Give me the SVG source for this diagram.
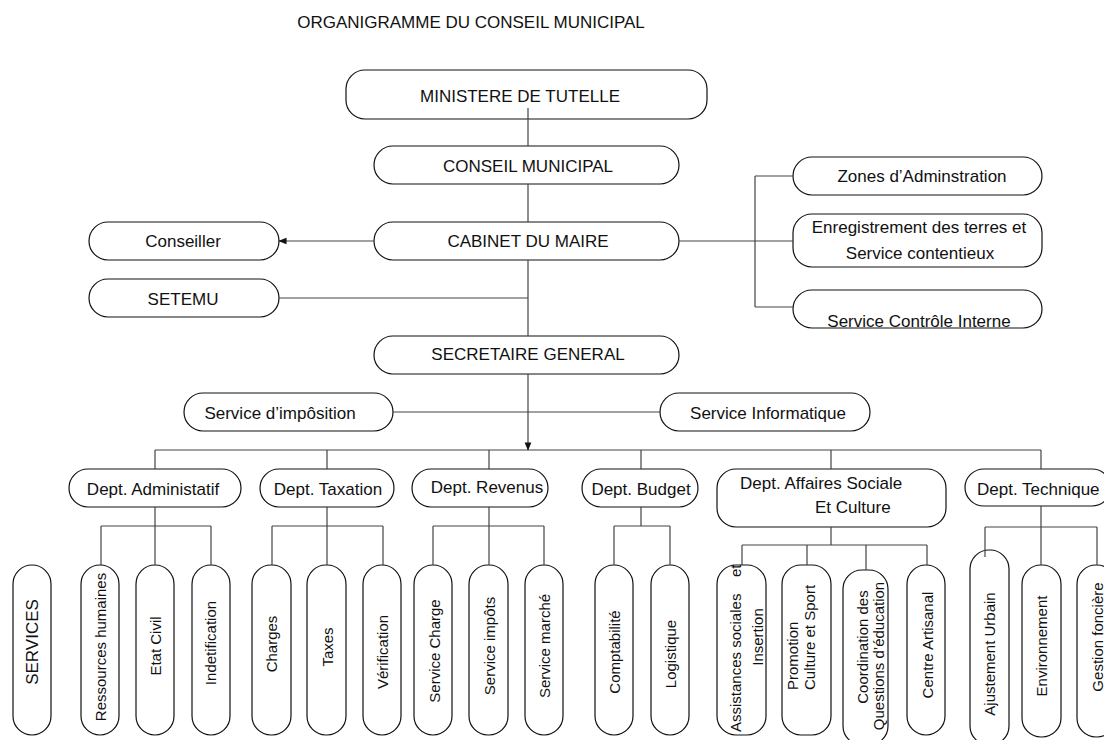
<svg xmlns="http://www.w3.org/2000/svg" width="1104" height="740" viewBox="0 0 1104 740">
<style>
.b{fill:#fff;stroke:#111;stroke-width:1.2}
.c{fill:none;stroke:#444;stroke-width:1.2}
text{font-family:"Liberation Sans",Arial,sans-serif;fill:#111}
.h{font-size:17px;text-anchor:middle}
.hs{font-size:17px}
.v{font-size:15px;text-anchor:middle;dominant-baseline:central}
.vs{font-size:15px;dominant-baseline:central}
</style>
<defs>
<marker id="arr" viewBox="0 0 10 10" refX="9" refY="5" markerWidth="7" markerHeight="7" orient="auto"><path d="M0,1 L10,5 L0,9 z" fill="#111"/></marker>
</defs>
<rect width="1104" height="740" fill="#fff"/>
<text class="h" x="471" y="28">ORGANIGRAMME DU CONSEIL MUNICIPAL</text>

<g id="n-ministere"><rect class="b" x="346" y="70" width="361" height="49" rx="19"/><text class="h" x="520" y="102">MINISTERE DE TUTELLE</text></g>
<g id="n-conseil"><rect class="b" x="374" y="146" width="305" height="38" rx="19"/><text class="h" x="528" y="172">CONSEIL MUNICIPAL</text></g>
<g id="n-cabinet"><rect class="b" x="374" y="222" width="305" height="38" rx="19"/><text class="h" x="528" y="247">CABINET DU MAIRE</text></g>
<g id="n-conseiller"><rect class="b" x="89" y="222" width="190" height="38" rx="19"/><text class="h" x="183" y="247">Conseiller</text></g>
<g id="n-setemu"><rect class="b" x="89" y="279" width="190" height="38" rx="19"/><text class="h" x="183" y="305">SETEMU</text></g>
<g id="n-secretaire"><rect class="b" x="374" y="336" width="305" height="38" rx="19"/><text class="h" x="528" y="360">SECRETAIRE GENERAL</text></g>
<g id="n-zones"><rect class="b" x="793" y="157" width="249" height="38" rx="19"/><text class="h" x="922" y="182">Zones d’Adminstration</text></g>
<g id="n-enreg"><rect class="b" x="793" y="214" width="249" height="53" rx="19"/><text class="h" x="919" y="233">Enregistrement des terres et</text><text class="h" x="920" y="259">Service contentieux</text></g>
<g id="n-controle"><rect class="b" x="793" y="290" width="249" height="38" rx="19"/><text class="h" x="919" y="327">Service Contrôle Interne</text></g>
<g id="n-imposition"><rect class="b" x="184" y="393" width="209" height="38" rx="19"/><text class="h" x="280" y="419">Service d’impôsition</text></g>
<g id="n-informatique"><rect class="b" x="660" y="393" width="210" height="38" rx="19"/><text class="h" x="768" y="419">Service Informatique</text></g>

<g id="n-admin"><rect class="b" x="69" y="469" width="172" height="38" rx="19"/><text class="h" x="153" y="495">Dept. Administatif</text></g>
<g id="n-taxation"><rect class="b" x="260" y="469" width="134" height="38" rx="19"/><text class="h" x="328" y="495">Dept. Taxation</text></g>
<g id="n-revenus"><rect class="b" x="412" y="469" width="136" height="38" rx="19"/><text class="h" x="487" y="493">Dept. Revenus</text></g>
<g id="n-budget"><rect class="b" x="582" y="469" width="116" height="38" rx="19"/><text class="h" x="641" y="495">Dept. Budget</text></g>
<g id="n-affaires"><rect class="b" x="717" y="469" width="229" height="58" rx="19"/><text class="hs" x="740" y="489">Dept. Affaires Sociale</text><text class="hs" x="815" y="513">Et Culture</text></g>
<g id="n-technique"><rect class="b" x="965" y="469" width="146" height="37" rx="19"/><text class="hs" x="977" y="495">Dept. Technique</text></g>

<g id="n-services"><rect class="b" x="13" y="565" width="38" height="170" rx="19"/><text class="v" style="font-size:17px" transform="rotate(-90 32 642)" x="32" y="642">SERVICES</text></g>
<g id="n-rh"><rect class="b" x="81" y="565" width="38" height="170" rx="19"/><text class="v" transform="rotate(-90 100 647)" x="100" y="647">Ressources humaines</text></g>
<g id="n-etat"><rect class="b" x="136" y="565" width="38" height="170" rx="19"/><text class="v" transform="rotate(-90 155 646)" x="155" y="646">Etat Civil</text></g>
<g id="n-indet"><rect class="b" x="192" y="565" width="38" height="170" rx="19"/><text class="v" transform="rotate(-90 210 643)" x="210" y="643">Indetification</text></g>
<g id="n-charges"><rect class="b" x="252" y="565" width="39" height="170" rx="19"/><text class="v" transform="rotate(-90 271 644)" x="271" y="644">Charges</text></g>
<g id="n-taxes"><rect class="b" x="307" y="565" width="39" height="170" rx="19"/><text class="v" transform="rotate(-90 327 647)" x="327" y="647">Taxes</text></g>
<g id="n-verif"><rect class="b" x="363" y="565" width="38" height="170" rx="19"/><text class="v" transform="rotate(-90 382 652)" x="382" y="652">Vérification</text></g>
<g id="n-scharge"><rect class="b" x="414" y="565" width="38" height="170" rx="19"/><text class="v" transform="rotate(-90 434 651)" x="434" y="651">Service Charge</text></g>
<g id="n-simpots"><rect class="b" x="469" y="565" width="39" height="170" rx="19"/><text class="v" transform="rotate(-90 489 646)" x="489" y="646">Service impôts</text></g>
<g id="n-smarche"><rect class="b" x="525" y="565" width="38" height="170" rx="19"/><text class="v" transform="rotate(-90 544 646)" x="544" y="646">Service marché</text></g>
<g id="n-compta"><rect class="b" x="595" y="565" width="38" height="170" rx="19"/><text class="v" transform="rotate(-90 614 652)" x="614" y="652">Comptabilité</text></g>
<g id="n-logist"><rect class="b" x="651" y="565" width="38" height="170" rx="19"/><text class="v" transform="rotate(-90 670 654)" x="670" y="654">Logistique</text></g>
<g id="n-assist"><rect class="b" x="717" y="565" width="49" height="170" rx="19"/>
<text class="vs" transform="rotate(-90 735 732)" x="735" y="732">Assistances sociales<tspan x="890">et</tspan></text>
<text class="v" transform="rotate(-90 757 637)" x="757" y="637">Insertion</text></g>
<g id="n-promo"><rect class="b" x="782" y="565" width="49" height="170" rx="19"/>
<text class="vs" transform="rotate(-90 792 690)" x="792" y="690">Promotion</text>
<text class="vs" transform="rotate(-90 809 690)" x="809" y="690">Culture et Sport</text></g>
<g id="n-coord"><rect class="b" x="843" y="570" width="45" height="175" rx="19"/>
<text class="v" transform="rotate(-90 862 647)" x="862" y="647">Coordination des</text>
<text class="v" transform="rotate(-90 878 656)" x="878" y="656">Questions d’éducation</text></g>
<g id="n-centre"><rect class="b" x="907" y="565" width="38" height="170" rx="19"/><text class="v" transform="rotate(-90 927 645)" x="927" y="645">Centre Artisanal</text></g>
<g id="n-ajust"><rect class="b" x="970" y="550" width="39" height="195" rx="19"/><text class="v" transform="rotate(-90 989 654)" x="989" y="654">Ajustement Urbain</text></g>
<g id="n-env"><rect class="b" x="1022" y="565" width="39" height="172" rx="19"/><text class="v" transform="rotate(-90 1041 646)" x="1041" y="646">Environnement</text></g>
<g id="n-gestion"><rect class="b" x="1077" y="565" width="39" height="172" rx="19"/><text class="v" transform="rotate(-90 1097 637)" x="1097" y="637">Gestion foncière</text></g>

<g id="connectors">
<path class="c" d="M528,108 V146 M528,184 V222 M528,260 V336 M279,298 H528"/>
<path class="c" d="M374,241 H279" marker-end="url(#arr)"/>
<path class="c" d="M679,241 H793 M755,176 V307 M755,176 H793 M755,307 H793"/>
<path class="c" d="M393,412 H660"/>
<path class="c" d="M528,374 V450" marker-end="url(#arr)"/>
<path class="c" d="M155,450 H1041 M155,450 V469 M327,450 V469 M489,450 V469 M641,450 V469 M831,450 V469 M1041,450 V469"/>
<path class="c" d="M155,507 V565 M101,526 H211 M101,526 V565 M211,526 V565"/>
<path class="c" d="M327,507 V565 M272,526 H383 M272,526 V565 M383,526 V565"/>
<path class="c" d="M489,507 V565 M433,526 H544 M433,526 V565 M544,526 V565"/>
<path class="c" d="M641,507 V526 M614,526 H670 M614,526 V565 M670,526 V565"/>
<path class="c" d="M831,527 V545 M742,545 H927 M742,545 V565 M807,545 V565 M866,545 V570 M927,545 V565"/>
<path class="c" d="M1041,506 V527 M985,527 H1097 M985,527 V557 M1041,527 V565 M1097,527 V565"/>
</g>
</svg>
